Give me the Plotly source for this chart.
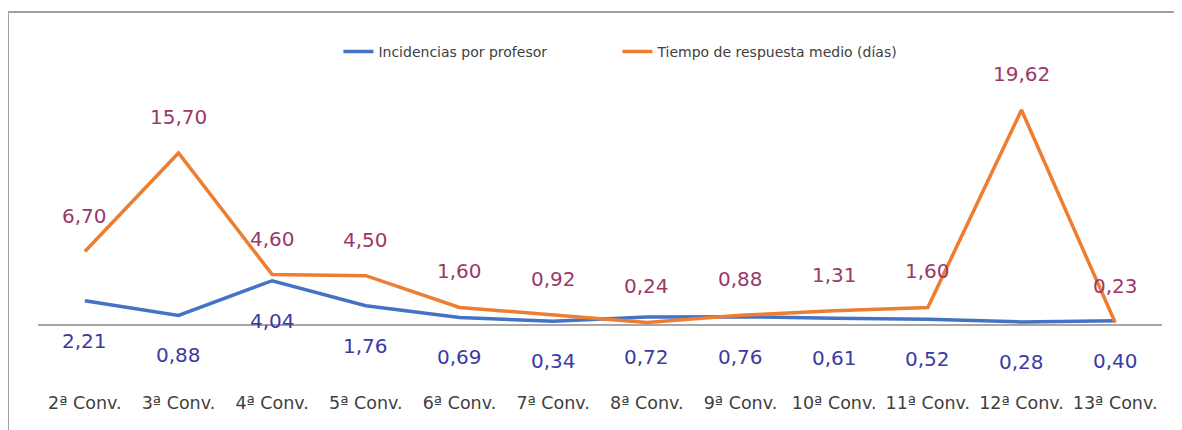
import plotly.graph_objects as go

# ── Data ─────────────────────────────────────────────────────────────────────
convocatorias = ["2ª Conv.", "3ª Conv.", "4ª Conv.", "5ª Conv.", "6ª Conv.", "7ª Conv.",
                 "8ª Conv.", "9ª Conv.", "10ª Conv.", "11ª Conv.", "12ª Conv.", "13ª Conv."]
incidencias = [2.21, 0.88, 4.04, 1.76, 0.69, 0.34, 0.72, 0.76, 0.61, 0.52, 0.28, 0.40]
tiempo_respuesta = [6.70, 15.70, 4.60, 4.50, 1.60, 0.92, 0.24, 0.88, 1.31, 1.60, 19.62, 0.23]

# ── Theme ────────────────────────────────────────────────────────────────────
BLUE = "#4472C4"
ORANGE = "#ED7D31"
BLUE_LABEL = "#3B3BA3"
ORANGE_LABEL = "#9B3868"
FONT = "DejaVu Sans"


def fmt(v):
    return f"{v:.2f}".replace(".", ",")


fig = go.Figure()
fig.add_trace(go.Scatter(
    x=convocatorias, y=incidencias, mode="lines",
    line=dict(color=BLUE, width=3.5),
    name="Incidencias por profesor",
))
fig.add_trace(go.Scatter(
    x=convocatorias, y=tiempo_respuesta, mode="lines",
    line=dict(color=ORANGE, width=3.5),
    name="Tiempo de respuesta medio (días)",
))

annotations = []
for c, v in zip(convocatorias, tiempo_respuesta):
    annotations.append(dict(x=c, y=v, text=fmt(v), showarrow=False, yshift=36,
                            font=dict(family=FONT, size=20, color=ORANGE_LABEL)))
for c, v in zip(convocatorias, incidencias):
    annotations.append(dict(x=c, y=v, text=fmt(v), showarrow=False, yshift=-40,
                            font=dict(family=FONT, size=20, color=BLUE_LABEL)))

# chart frame (only top and left edges are visible in the original)
shapes = [
    dict(type="line", xref="paper", yref="paper", x0=-0.0267, x1=1.03, y0=1.0216, y1=1.0216,
         line=dict(color="#A0A0A0", width=2)),
    dict(type="line", xref="paper", yref="paper", x0=-0.0267, x1=-0.0267, y0=-0.12, y1=1.0216,
         line=dict(color="#A0A0A0", width=2)),
]

# page body has an 8px margin, so the figure is a bit smaller than the window
fig.update_layout(
    width=1174, height=422,
    margin=dict(l=30, r=20, t=12, b=40),
    paper_bgcolor="white", plot_bgcolor="white",
    font=dict(family=FONT, color="#404040"),
    showlegend=True,
    legend=dict(orientation="h", x=0.5155, xanchor="center", y=0.9135, yanchor="middle",
                font=dict(size=14, color="#404040"), entrywidth=234,
                bgcolor="rgba(0,0,0,0)"),
    xaxis=dict(range=[-0.5, 11.5], showgrid=False, showline=False, ticks="", zeroline=False,
               automargin=False, tickfont=dict(size=17.5, color="#404040")),
    yaxis=dict(range=[-5.93, 27.83], showgrid=False, showticklabels=False, automargin=False,
               zeroline=True, zerolinecolor="#A6A6A6", zerolinewidth=1.5),
    annotations=annotations,
    shapes=shapes,
)

fig.write_html("out.html")
